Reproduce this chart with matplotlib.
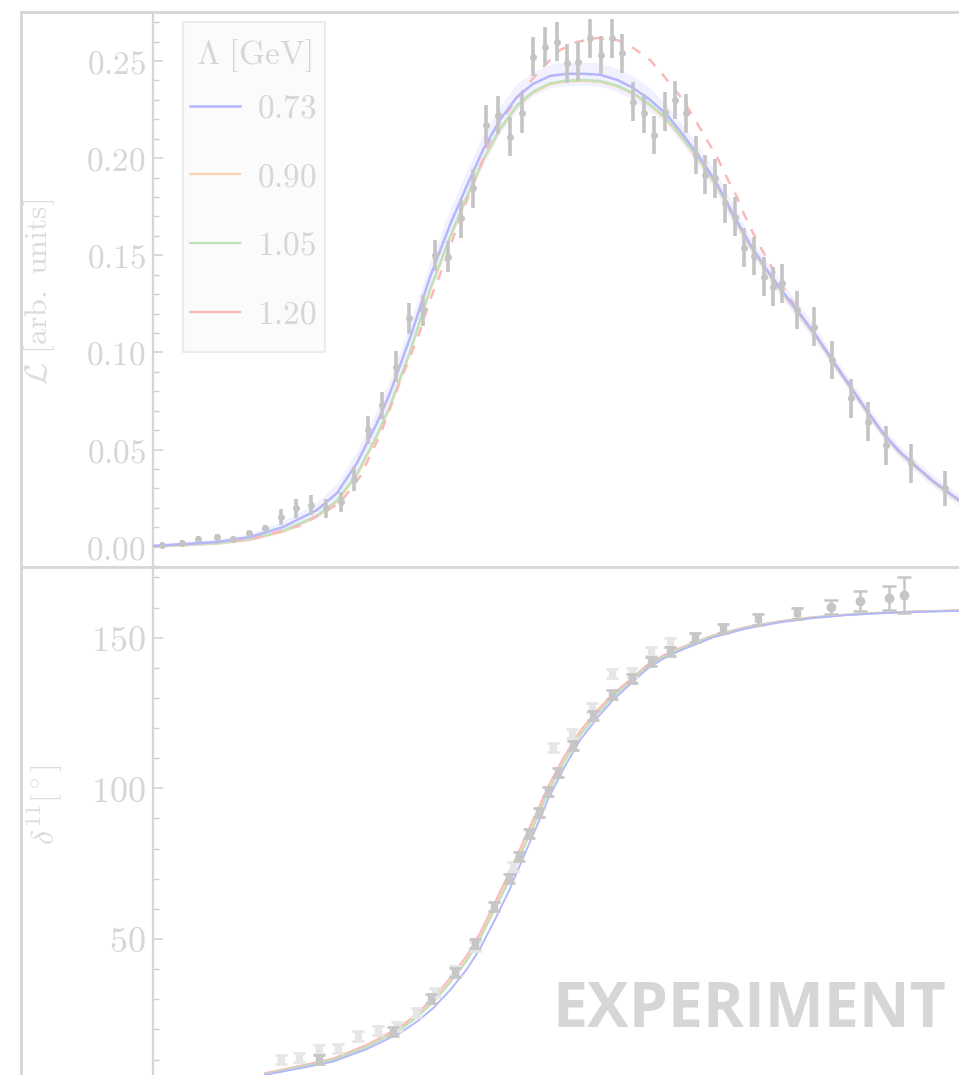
import matplotlib
matplotlib.use("Agg")
import matplotlib.pyplot as plt
from matplotlib.lines import Line2D
from matplotlib.patches import Rectangle
from matplotlib.ticker import MultipleLocator, FuncFormatter

plt.rcParams['mathtext.fontset'] = 'cm'
plt.rcParams['font.family'] = ['DejaVu Serif']

# ---------------- data: top panel (line shape) ----------------
lam_labels = ['0.73', '0.90', '1.05', '1.20']

top_data_x = [0.289, 0.309, 0.325, 0.344, 0.360, 0.376, 0.392, 0.408, 0.423, 0.438,
              0.453, 0.468, 0.481, 0.495, 0.509, 0.523, 0.536, 0.550, 0.562, 0.575,
              0.588, 0.600, 0.613, 0.625, 0.637, 0.649, 0.660, 0.672, 0.684, 0.694,
              0.705, 0.717, 0.728, 0.739, 0.749, 0.760, 0.771, 0.781, 0.792, 0.802,
              0.813, 0.823, 0.832, 0.842, 0.852, 0.862, 0.871, 0.881, 0.891, 0.900,
              0.909, 0.924, 0.941, 0.959, 0.978, 0.995, 1.013, 1.038, 1.072]
top_data_y = [0.0009, 0.0018, 0.0038, 0.0051, 0.0041, 0.0069, 0.0095, 0.0154, 0.0198, 0.0215,
              0.0198, 0.0229, 0.0348, 0.0601, 0.0727, 0.0926, 0.1176, 0.1218, 0.1501, 0.1493,
              0.1690, 0.1845, 0.2171, 0.2222, 0.2110, 0.2231, 0.2522, 0.2574, 0.2599, 0.2488,
              0.2496, 0.2617, 0.2531, 0.2617, 0.2540, 0.2291, 0.2231, 0.2119, 0.2239, 0.2299,
              0.2231, 0.2016, 0.1914, 0.1896, 0.1768, 0.1699, 0.1538, 0.1496, 0.1390, 0.1337,
              0.1356, 0.1218, 0.1132, 0.0961, 0.0764, 0.0643, 0.0523, 0.0429, 0.0301]
top_data_err = [0.0015, 0.0015, 0.0015, 0.0015, 0.0015, 0.0015, 0.0015, 0.004, 0.005, 0.005,
                0.005, 0.005, 0.006, 0.007, 0.007, 0.008, 0.008, 0.008, 0.008, 0.008,
                0.010, 0.010, 0.010, 0.010, 0.010, 0.010, 0.010, 0.010, 0.010, 0.010,
                0.010, 0.010, 0.010, 0.010, 0.010, 0.010, 0.010, 0.010, 0.010, 0.010,
                0.010, 0.010, 0.010, 0.010, 0.010, 0.010, 0.010, 0.010, 0.010, 0.010,
                0.010, 0.010, 0.010, 0.010, 0.010, 0.010, 0.010, 0.010, 0.009]

top_curve_x = [0.280, 0.312, 0.344, 0.377, 0.410, 0.444, 0.464, 0.484, 0.504, 0.517,
               0.537, 0.557, 0.577, 0.592, 0.610, 0.627, 0.644, 0.660, 0.677, 0.694,
               0.710, 0.727, 0.744, 0.760, 0.777, 0.794, 0.810, 0.827, 0.844, 0.860,
               0.877, 0.894, 0.910, 0.927, 0.944, 0.960, 0.977, 0.994, 1.010, 1.027,
               1.044, 1.060, 1.086]
top_blue = [0.0004, 0.0014, 0.0024, 0.0050, 0.0101, 0.0189, 0.0276, 0.0431, 0.0637, 0.0791,
            0.1074, 0.1388, 0.1656, 0.1836, 0.2042, 0.2197, 0.2315, 0.2382, 0.2423, 0.2434,
            0.2434, 0.2429, 0.2403, 0.2362, 0.2300, 0.2223, 0.2120, 0.2002, 0.1868, 0.1712,
            0.1558, 0.1424, 0.1311, 0.1198, 0.1080, 0.0956, 0.0827, 0.0699, 0.0585, 0.0487,
            0.0410, 0.0338, 0.0240]
top_blue_band = [0.001, 0.001, 0.0015, 0.002, 0.003, 0.004, 0.005, 0.006, 0.007, 0.007,
                 0.008, 0.008, 0.008, 0.008, 0.008, 0.007, 0.007, 0.006, 0.006, 0.006,
                 0.006, 0.006, 0.006, 0.006, 0.006, 0.005, 0.005, 0.005, 0.005, 0.005,
                 0.004, 0.004, 0.004, 0.004, 0.004, 0.003, 0.003, 0.003, 0.003, 0.003,
                 0.003, 0.003, 0.003]
top_orange = [0.0001, 0.0008, 0.0016, 0.0036, 0.0077, 0.0155, 0.0232, 0.0368, 0.0568, 0.0718,
              0.0998, 0.1318, 0.1588, 0.1776, 0.1985, 0.2146, 0.2266, 0.2336, 0.2380, 0.2395,
              0.2397, 0.2393, 0.2369, 0.2330, 0.2271, 0.2195, 0.2095, 0.1980, 0.1850, 0.1697,
              0.1544, 0.1411, 0.1299, 0.1187, 0.1069, 0.0946, 0.0818, 0.0690, 0.0577, 0.0479,
              0.0402, 0.0331, 0.0233]
top_green = [0.0002, 0.0010, 0.0019, 0.0040, 0.0082, 0.0160, 0.0238, 0.0375, 0.0575, 0.0725,
             0.1005, 0.1325, 0.1595, 0.1783, 0.1992, 0.2152, 0.2272, 0.2342, 0.2386, 0.2400,
             0.2402, 0.2398, 0.2374, 0.2336, 0.2277, 0.2202, 0.2102, 0.1988, 0.1858, 0.1705,
             0.1552, 0.1419, 0.1307, 0.1195, 0.1077, 0.0953, 0.0825, 0.0697, 0.0583, 0.0485,
             0.0408, 0.0336, 0.0238]
top_red_x = [0.280, 0.377, 0.427, 0.467, 0.487, 0.507, 0.529, 0.545, 0.557, 0.572,
             0.584, 0.594, 0.607, 0.620, 0.645, 0.657, 0.670, 0.687, 0.704, 0.724,
             0.744, 0.759, 0.777, 0.790, 0.810, 0.824, 0.834, 0.844, 0.854, 0.864,
             0.870, 0.880, 0.889, 0.897, 0.907, 0.917, 0.927, 0.944, 0.960, 0.977,
             0.994, 1.010, 1.027, 1.044, 1.060, 1.086]
top_red = [0.0001, 0.0038, 0.0108, 0.0225, 0.0360, 0.0575, 0.0874, 0.1080, 0.1270, 0.1466,
           0.1646, 0.1785, 0.1954, 0.2129, 0.2315, 0.2392, 0.2469, 0.2556, 0.2598, 0.2618,
           0.2608, 0.2572, 0.2505, 0.2428, 0.2300, 0.2181, 0.2093, 0.2006, 0.1898, 0.1800,
           0.1723, 0.1614, 0.1527, 0.1455, 0.1362, 0.1280, 0.1198, 0.1080, 0.0956, 0.0827,
           0.0699, 0.0585, 0.0487, 0.0410, 0.0338, 0.0240]

# ---------------- data: bottom panel (phase shift) ----------------
ph_light_x = [0.408, 0.426, 0.446, 0.465, 0.485, 0.505, 0.524, 0.543, 0.562, 0.582,
              0.602, 0.640, 0.680, 0.699, 0.719, 0.739, 0.759, 0.778, 0.797]
ph_light_y = [10.0, 10.6, 13.4, 13.7, 17.8, 19.6, 21.1, 25.7, 32.2, 39.5,
              47.4, 74.2, 113.6, 118.3, 126.8, 138.0, 138.4, 145.4, 148.3]
ph_light_err = [1.5] * 19

ph_dark_x = [0.446, 0.520, 0.558, 0.582, 0.602, 0.621, 0.636, 0.646, 0.656, 0.666,
             0.675, 0.685, 0.700, 0.720, 0.739, 0.759, 0.778, 0.797, 0.822, 0.850,
             0.885, 0.924]
ph_dark_y = [10.1, 19.2, 30.1, 38.8, 48.6, 60.7, 70.1, 77.5, 85.1, 92.0,
             99.1, 105.2, 114.2, 124.2, 131.1, 136.3, 142.0, 145.3, 150.0, 153.1,
             156.1, 158.1]
ph_dark_err = [1.5] * 20 + [1.8, 1.8]

ph_circ_x = [0.958, 0.987, 1.016, 1.031]
ph_circ_y = [160.1, 162.2, 163.1, 164.2]
ph_circ_err = [2.3, 3.3, 4.0, 6.0]

ph_curve_x = [0.392, 0.427, 0.460, 0.494, 0.527, 0.544, 0.560, 0.577, 0.594, 0.607,
              0.621, 0.636, 0.646, 0.656, 0.666, 0.675, 0.690, 0.707, 0.724, 0.740,
              0.757, 0.774, 0.790, 0.807, 0.840, 0.874, 0.907, 0.940, 0.974, 1.007,
              1.040, 1.086]
ph_blue = [4.9, 7.1, 9.3, 13.5, 18.8, 22.6, 27.0, 33.0, 40.0, 46.8,
           55.8, 66.0, 73.8, 81.5, 89.2, 96.4, 106.2, 116.0, 123.3, 129.3,
           134.5, 139.6, 143.0, 145.7, 150.1, 153.1, 155.1, 156.5, 157.5, 158.1,
           158.5, 158.9]
ph_orange = [5.3, 7.7, 10.0, 14.5, 20.2, 24.5, 29.4, 35.9, 43.4, 50.7,
             60.0, 70.3, 77.6, 85.0, 92.4, 99.3, 108.7, 118.0, 125.0, 130.7,
             135.6, 140.5, 143.8, 146.3, 150.6, 153.5, 155.4, 156.8, 157.6, 158.2,
             158.6, 159.0]
ph_green = [5.2, 7.5, 9.8, 14.2, 19.8, 24.0, 28.9, 35.4, 42.8, 50.0,
            59.2, 69.2, 76.6, 84.0, 91.5, 98.5, 108.0, 117.5, 124.5, 130.3,
            135.3, 140.3, 143.6, 146.2, 150.5, 153.4, 155.3, 156.7, 157.6, 158.2,
            158.6, 159.0]
ph_red = [5.5, 7.9, 10.3, 14.9, 20.8, 25.2, 30.4, 37.0, 44.6, 52.0,
          61.5, 71.8, 79.2, 86.6, 93.8, 100.6, 109.9, 119.0, 125.8, 131.3,
          136.1, 140.9, 144.1, 146.6, 150.8, 153.6, 155.5, 156.8, 157.7, 158.3,
          158.7, 159.1]

# ---------------- styling ----------------
C_BLUE = '#b6b6fb'
C_ORANGE = '#fbd2ae'
C_GREEN = '#b9e5b9'
C_RED = '#fbb9b9'
C_FRAME = '#d6d6d6'
C_TICK = '#d0d0d0'
C_TXT = '#d6d6d6'
C_DATA = '#c4c4c4'

W, H = 959, 1075
fig = plt.figure(figsize=(W / 100, H / 100), dpi=100)


def fx(px):
    return px / W


def fy(py):
    return 1 - py / H


ax1 = fig.add_axes([fx(153), fy(567), 1 - fx(153), fy(12) - fy(567)])
ax2 = fig.add_axes([fx(153), 0.0, 1 - fx(153), fy(567)])

for ax in (ax1, ax2):
    ax.set_xlim(0.280, 1.086)
    ax.set_xticks([])
    for s in ('top', 'right', 'bottom'):
        ax.spines[s].set_visible(False)
    ax.spines['left'].set_color(C_FRAME)
    ax.spines['left'].set_linewidth(1.6)
    ax.tick_params(axis='y', which='major', direction='in', length=7, width=1.1,
                   color=C_TICK, labelcolor=C_TXT)
    ax.tick_params(axis='y', which='minor', direction='in', length=4, width=1.0,
                   color=C_TICK)
    ax.patch.set_alpha(0)

# top panel
ax1.set_ylim(-0.01045, 0.2752)
ax1.yaxis.set_major_locator(MultipleLocator(0.05))
ax1.yaxis.set_minor_locator(MultipleLocator(0.01))
ax1.yaxis.set_major_formatter(FuncFormatter(lambda v, p: r'$%.2f$' % v))
ax1.tick_params(axis='y', which='major', labelsize=24, pad=5)

lo = [b - w for b, w in zip(top_blue, top_blue_band)]
hi = [b + w for b, w in zip(top_blue, top_blue_band)]
ax1.fill_between(top_curve_x, lo, hi, color='#dcdcff', alpha=0.4, lw=0, zorder=1)
ax1.plot(top_curve_x, top_orange, color=C_ORANGE, lw=1.6, zorder=2)
ax1.plot(top_curve_x, top_green, color=C_GREEN, lw=1.6, zorder=2)
ax1.plot(top_red_x, top_red, color=C_RED, lw=1.8, ls=(0, (4, 4)), zorder=2)
ax1.plot(top_curve_x, top_blue, color=C_BLUE, lw=1.8, zorder=3)
ax1.errorbar(top_data_x, top_data_y, yerr=top_data_err, fmt='o', ms=4, color=C_DATA,
             ecolor=C_DATA, elinewidth=2.6, capsize=0, zorder=4)

# legend: frame and title drawn inside ax1, entries via legend
ax1.add_patch(Rectangle((fx(183), fy(352)), fx(325) - fx(183), fy(22) - fy(352),
                        transform=fig.transFigure, facecolor='#fbfbfb',
                        edgecolor='#ececec', lw=1.5, zorder=6, clip_on=False))
ax1.text(fx(254), fy(56), r'$\Lambda\ [\mathrm{GeV}]$', transform=fig.transFigure,
         ha='center', va='center', fontsize=24, color=C_TXT, zorder=7)
handles = [Line2D([], [], color=C_BLUE, lw=1.8), Line2D([], [], color=C_ORANGE, lw=1.6),
           Line2D([], [], color=C_GREEN, lw=1.6), Line2D([], [], color=C_RED, lw=1.6)]
leg = ax1.legend(handles, [r'$%s$' % s for s in lam_labels], loc='center left',
                 bbox_to_anchor=(fx(190), fy(211.5)), bbox_transform=fig.transFigure,
                 fontsize=24, frameon=False, borderpad=0, labelspacing=1.1,
                 handlelength=1.5, handletextpad=0.5, borderaxespad=0)
leg.set_zorder(8)
for t in leg.get_texts():
    t.set_color(C_TXT)

# bottom panel
ax2.set_ylim(4.86, 173.46)
ax2.yaxis.set_major_locator(MultipleLocator(50))
ax2.yaxis.set_minor_locator(MultipleLocator(10))
ax2.yaxis.set_major_formatter(FuncFormatter(lambda v, p: r'$%d$' % v))
ax2.tick_params(axis='y', which='major', labelsize=26, pad=5)

ax2.plot(ph_curve_x, ph_orange, color=C_ORANGE, lw=1.4, zorder=2)
ax2.plot(ph_curve_x, ph_red, color=C_RED, lw=1.4, zorder=2)
ax2.plot(ph_curve_x, ph_green, color=C_GREEN, lw=1.4, zorder=2)
ax2.plot(ph_curve_x, ph_blue, color=C_BLUE, lw=1.4, zorder=2)
ax2.errorbar(ph_light_x, ph_light_y, yerr=ph_light_err, fmt='s', ms=5, color='#e6e6e6',
             ecolor='#e6e6e6', elinewidth=2, capsize=4, capthick=2, zorder=3)
ax2.errorbar(ph_dark_x, ph_dark_y, yerr=ph_dark_err, fmt='s', ms=5, color='#c6c6c6',
             ecolor='#c6c6c6', elinewidth=2, capsize=4, capthick=2, zorder=4)
ax2.errorbar(ph_circ_x, ph_circ_y, yerr=ph_circ_err, fmt='o', ms=6, color='#c6c6c6',
             ecolor='#c6c6c6', elinewidth=1.8, capsize=5, capthick=1.8, zorder=4)

# axis labels
fig.text(fx(40), fy(292), r'$\mathcal{L}\ [\mathrm{arb.\ units}]$', rotation=90,
         ha='center', va='center', fontsize=23, color='#dcdcdc')
fig.text(fx(45), fy(805), r'$\delta^{11} [^\circ]$', rotation=90,
         ha='center', va='center', fontsize=23, color='#dcdcdc')

# outer frame
for xs, ys in (([fx(21), 1.0], [fy(12), fy(12)]),
               ([fx(21), fx(21)], [0.0, fy(12)]),
               ([fx(21), 1.0], [fy(567), fy(567)])):
    fig.add_artist(Line2D(xs, ys, transform=fig.transFigure, color=C_FRAME, lw=2.0))

# watermark
fig.text(fx(552), fy(1027), 'EXPERIMENT', ha='left', va='baseline', fontsize=45,
         color='#d6d6d6', family=['Open Sans', 'DejaVu Sans'], weight='bold')

fig.savefig('out.png', dpi=100)
